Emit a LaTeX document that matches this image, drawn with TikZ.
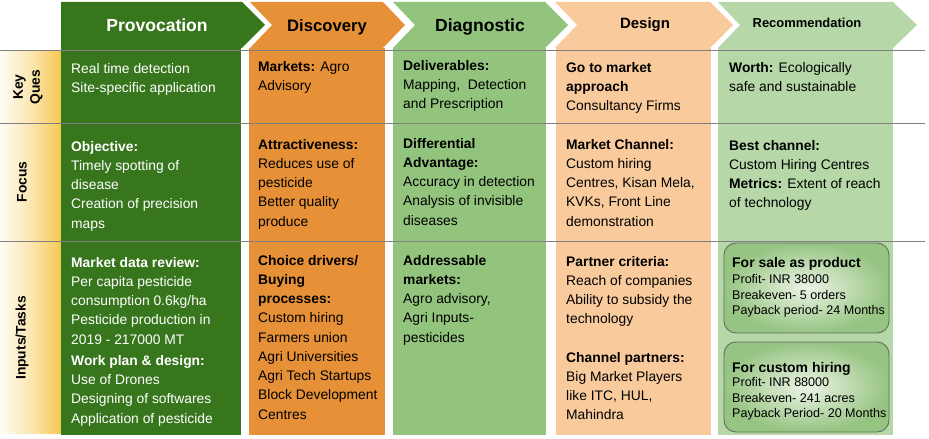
\documentclass[tikz,border=0pt]{standalone}
\usepackage{fontspec}
\setmainfont{Liberation Sans}
\begin{document}
\definecolor{provg}{RGB}{56,118,29}
\definecolor{disco}{RGB}{230,145,56}
\definecolor{diagg}{RGB}{147,196,125}
\definecolor{desigo}{RGB}{249,203,156}
\definecolor{recg}{RGB}{182,215,168}
\definecolor{gold}{RGB}{246,200,82}
\definecolor{rule}{RGB}{128,128,128}
\definecolor{boxedge}{RGB}{96,110,92}
\definecolor{boxout}{RGB}{150,196,130}
\definecolor{boxin}{RGB}{236,244,230}
\begin{tikzpicture}[x=1bp,y=-1bp,
  body/.style={anchor=north west,inner sep=0pt,align=left,
    font=\fontsize{13.9}{19.3}\selectfont},
  whitebody/.style={body,text=white},
  headtext/.style={anchor=base,inner sep=0pt,font=\bfseries},
  rowlabel/.style={rotate=90,inner sep=0pt,align=center,
    font=\fontsize{13.9}{17}\selectfont\bfseries},
  boxtitle/.style={anchor=north west,inner sep=0pt,
    font=\fontsize{14}{16}\selectfont\bfseries},
  boxbody/.style={anchor=north west,inner sep=0pt,align=left,
    font=\fontsize{12.6}{15.5}\selectfont},
  sepline/.style={draw=rule,line width=1.6bp},
  resultbox/.style={draw=boxedge,line width=0.9bp,rounded corners=12bp,
    inner color=boxin,outer color=boxout}]
\useasboundingbox (0,0) rectangle (929,439);

% row label strip
\shade[left color=gold!6,right color=gold,middle color=gold!45]
  (0,51) rectangle (61,433);

% column bodies
\fill[provg]  (61,48)  rectangle (241,435);
\fill[disco]  (249,48) rectangle (385,435);
\fill[diagg]  (393,48) rectangle (546,435);
\fill[desigo] (556,48) rectangle (711,435);
\fill[recg]   (718,48) rectangle (893,435);

% phase chevrons
\fill[provg]  (61,2) -- (242,2) -- (265,25) -- (242,48) -- (61,48) -- cycle;
\fill[disco]  (250,2) -- (383,2) -- (405,25) -- (383,48) -- (250,48) -- (272,25) -- cycle;
\fill[diagg]  (393,2) -- (545,2) -- (568,25) -- (545,48) -- (393,48) -- (415,25) -- cycle;
\fill[desigo] (555,2) -- (710,2) -- (733,25) -- (710,48) -- (555,48) -- (577,25) -- cycle;
\fill[recg]   (718,2) -- (893,2) -- (917,25) -- (893,48) -- (718,48) -- (740,25) -- cycle;

% phase titles
\node[headtext,text=white,font=\fontsize{17.6}{20}\selectfont\bfseries] (hprov) at (157,32) {Provocation};
\node[headtext,font=\fontsize{16.7}{20}\selectfont\bfseries] (hdisc) at (327,32) {Discovery};
\node[headtext,font=\fontsize{17.6}{20}\selectfont\bfseries] (hdiag) at (480,32) {Diagnostic};
\node[headtext,font=\fontsize{15}{18}\selectfont\bfseries] (hdes) at (645,29) {Design};
\node[headtext,font=\fontsize{13}{16}\selectfont\bfseries] (hrec) at (807,28) {Recommendation};

% row separators
\draw[sepline] (0,50.5) -- (925,50.5);
\draw[sepline] (0,123.5) -- (925,123.5);
\draw[sepline] (0,241.5) -- (925,241.5);

% row labels
\node[rowlabel] (lkey) at (28,87) {Key\\Ques};
\node[rowlabel] (lfocus) at (22,182) {Focus};
\node[rowlabel] (linputs) at (22,338) {Inputs/Tasks};

% key questions
\node[whitebody] (kprov) at (71,63) {Real time detection\\Site-specific application};
\node[body] (kdisc) at (258,61) {\textbf{Markets:} Agro\\Advisory};
\node[body] (kdiag) at (403,60) {\textbf{Deliverables:}\\Mapping,\ \ Detection\\and Prescription};
\node[body] (kdes) at (566,62) {\textbf{Go to market}\\\textbf{approach}\\Consultancy Firms};
\node[body] (krec) at (729,62) {\textbf{Worth:} Ecologically\\safe and sustainable};

% focus
\node[whitebody] (fprov) at (71,141) {\textbf{Objective:}\\Timely spotting of\\disease\\Creation of precision\\maps};
\node[body] (fdisc) at (258,139) {\textbf{Attractiveness:}\\Reduces use of\\pesticide\\Better quality\\produce};
\node[body] (fdiag) at (403,138) {\textbf{Differential}\\\textbf{Advantage:}\\Accuracy in detection\\Analysis of invisible\\diseases};
\node[body] (fdes) at (566,139) {\textbf{Market Channel:}\\Custom hiring\\Centres, Kisan Mela,\\KVKs, Front Line\\demonstration};
\node[body] (frec) at (729,140) {\textbf{Best channel:}\\Custom Hiring Centres\\\textbf{Metrics:} Extent of reach\\of technology};

% inputs / tasks
\node[whitebody] (iprov) at (71,257) {\textbf{Market data review:}\\Per capita pesticide\\consumption 0.6kg/ha\\Pesticide production in\\2019 - 217000 MT\\[2pt]\textbf{Work plan \& design:}\\Use of Drones\\Designing of softwares\\Application of pesticide};
\node[body] (idisc) at (258,255) {\textbf{Choice drivers/}\\\textbf{Buying}\\\textbf{processes:}\\Custom hiring\\Farmers union\\Agri Universities\\Agri Tech Startups\\Block Development\\Centres};
\node[body] (idiag) at (403,255) {\textbf{Addressable}\\\textbf{markets:}\\Agro advisory,\\Agri Inputs-\\pesticides};
\node[body] (ides) at (566,256) {\textbf{Partner criteria:}\\Reach of companies\\Ability to subsidy the\\technology\\[19pt]\textbf{Channel partners:}\\Big Market Players\\like ITC, HUL,\\Mahindra};

% recommendation outcome boxes
\path[resultbox] (724,243) rectangle (889,333);
\path[resultbox] (724,342) rectangle (889,432);
\node[boxtitle] (sale) at (732,257) {For sale as product};
\node[boxbody] (saleinfo) at (732,274.5) {Profit- INR 38000\\Breakeven- 5 orders\\Payback period- 24 Months};
\node[boxtitle] (hire) at (732,362) {For custom hiring};
\node[boxbody] (hireinfo) at (732,377.5) {Profit- INR 88000\\Breakeven- 241 acres\\Payback Period- 20 Months};
\end{tikzpicture}
\end{document}
